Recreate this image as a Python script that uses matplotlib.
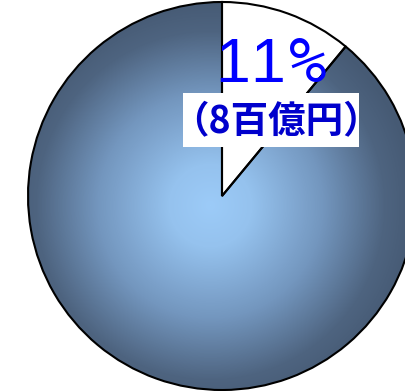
import matplotlib
matplotlib.use('Agg')
import matplotlib.pyplot as plt
import numpy as np
from matplotlib.patches import Wedge, Rectangle
from matplotlib.colors import LinearSegmentedColormap

# data
shares = [11, 89]            # percent
label_pct = '11%'
label_amt = '（8百億円）'

W, H = 406, 391
CX, CY, R = 222, 196, 194

fig = plt.figure(figsize=(W / 100, H / 100), dpi=100)
ax = fig.add_axes([0, 0, 1, 1])
ax.set_xlim(0, W)
ax.set_ylim(H, 0)
ax.set_aspect('equal')
ax.axis('off')

# start at 12 o'clock, clockwise (y axis is inverted)
a0 = -90
a1 = a0 + 360 * shares[0] / 100.0

white = Wedge((CX, CY), R, a0, a1, facecolor='white', edgecolor='black', lw=1.5, zorder=3)
ax.add_patch(white)
rest = Wedge((CX, CY), R, a1, a0 + 360, facecolor='none', edgecolor='black', lw=1.5, zorder=4)
ax.add_patch(rest)

# radial gradient for the big slice
yy, xx = np.mgrid[0:H, 0:W]
r = np.hypot(xx - 210, yy - 205) / 205.0
t = np.clip(r, 0, 1)
cmap = LinearSegmentedColormap.from_list(
    'g', [(0, '#9ccbf8'), (0.2, '#95c2ee'), (0.55, '#7396be'), (0.85, '#4e6480'), (1, '#465a74')], N=256)
im = ax.imshow(t, cmap=cmap, vmin=0, vmax=1, extent=(0, W, H, 0), zorder=2, interpolation='bilinear')
im.set_clip_path(Wedge((CX, CY), R, a1, a0 + 360, transform=ax.transData))

# "11%" label, spaced out like the original (narrow percent sign)
char_x = [233, 268, 308]
for ch, x in zip(label_pct, char_x):
    fam = 'DejaVu Sans Mono' if ch == '%' else 'Liberation Sans'
    ax.text(x, 82, ch, color='#0000ff', fontsize=45, ha='center', va='baseline',
            family=fam, zorder=5)

ax.add_patch(Rectangle((183, 93), 176, 54, facecolor='white', edgecolor='none', zorder=5))
ax.text(276, 122, label_amt, color='#0000cc', fontsize=27, fontweight='bold',
        ha='center', va='center', family=['Noto Sans CJK JP', 'DejaVu Sans'], zorder=6)

plt.savefig('out.png', dpi=100)
